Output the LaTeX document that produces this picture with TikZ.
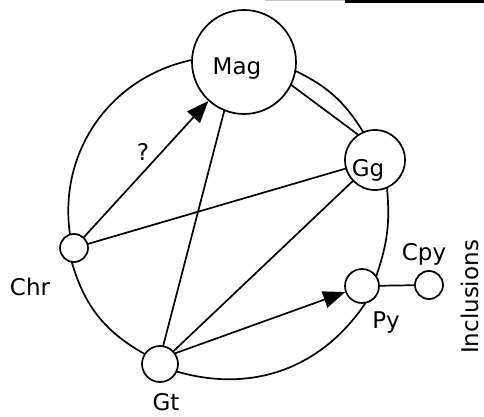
\documentclass[tikz,border=0pt]{standalone}
\usepackage{fontspec}
\setmainfont{DejaVu Sans}
\usetikzlibrary{arrows.meta}
\begin{document}
\begin{tikzpicture}[x=1pt,y=1pt,
  conn/.style={line width=1.7pt, line cap=round},
  circ/.style={circle, draw, line width=1.7pt, inner sep=0pt, fill=white},
  txt/.style={font=\fontsize{23}{27}\selectfont, inner sep=0pt},
  tip/.style={-{Triangle[length=22pt,width=17pt]}}]
\useasboundingbox (0,0) rectangle (484,-417);
% scan border fragment at the top
\fill[gray!45] (265,0) rectangle (345,-1.5);
\fill[black] (345,0) rectangle (484,-2.6);
% phases
\node[circ, minimum size=104pt] (mag) at (244,-62) {};
\node[circ, minimum size=60pt] (gg) at (375,-160) {};
\node[circ, minimum size=28pt] (chr) at (74,-248) {};
\node[circ, minimum size=36pt] (gt) at (160,-364) {};
\node[circ, minimum size=34pt] (py) at (362,-286) {};
\node[circ, minimum size=28pt] (cpy) at (429,-285) {};
% labels
\node[txt, anchor=base] (magtxt) at (237,-75) {Mag};
\node[txt, anchor=base] (ggtxt) at (368,-176) {Gg};
\node[txt, anchor=base] (chrtxt) at (30,-295) {Chr};
\node[txt, anchor=base] (gttxt) at (166,-410) {Gt};
\node[txt, anchor=base] (pytxt) at (386,-328) {Py};
\node[txt, anchor=base] (cpytxt) at (424,-260) {Cpy};
\node[txt, anchor=base] (q) at (143,-160) {?};
\node[txt, rotate=90] (incl) at (470,-297) {Inclusions};
% outer ring
\draw[conn] (mag.178) to[bend right=43] (chr.106);
\draw[conn] (chr.262) to[bend right=22] (gt.147);
\draw[conn] (gt.336) to[bend right=36] (py.280);
\draw[conn] (py.36) to[bend right=12] (gg.293);
\draw[conn] (gg.113) to[bend right=16] (mag.350);
\draw[conn] (mag.334) -- (gg.124);
% chords
\draw[conn,tip] (chr) -- (mag);
\draw[conn] (chr) -- (gg);
\draw[conn] (gt.80) -- (mag.248);
\draw[conn] (gt) -- (gg);
\draw[conn,tip] (gt.35) -- (py.200);
\draw[conn] (py) -- (cpy);
\end{tikzpicture}
\end{document}
